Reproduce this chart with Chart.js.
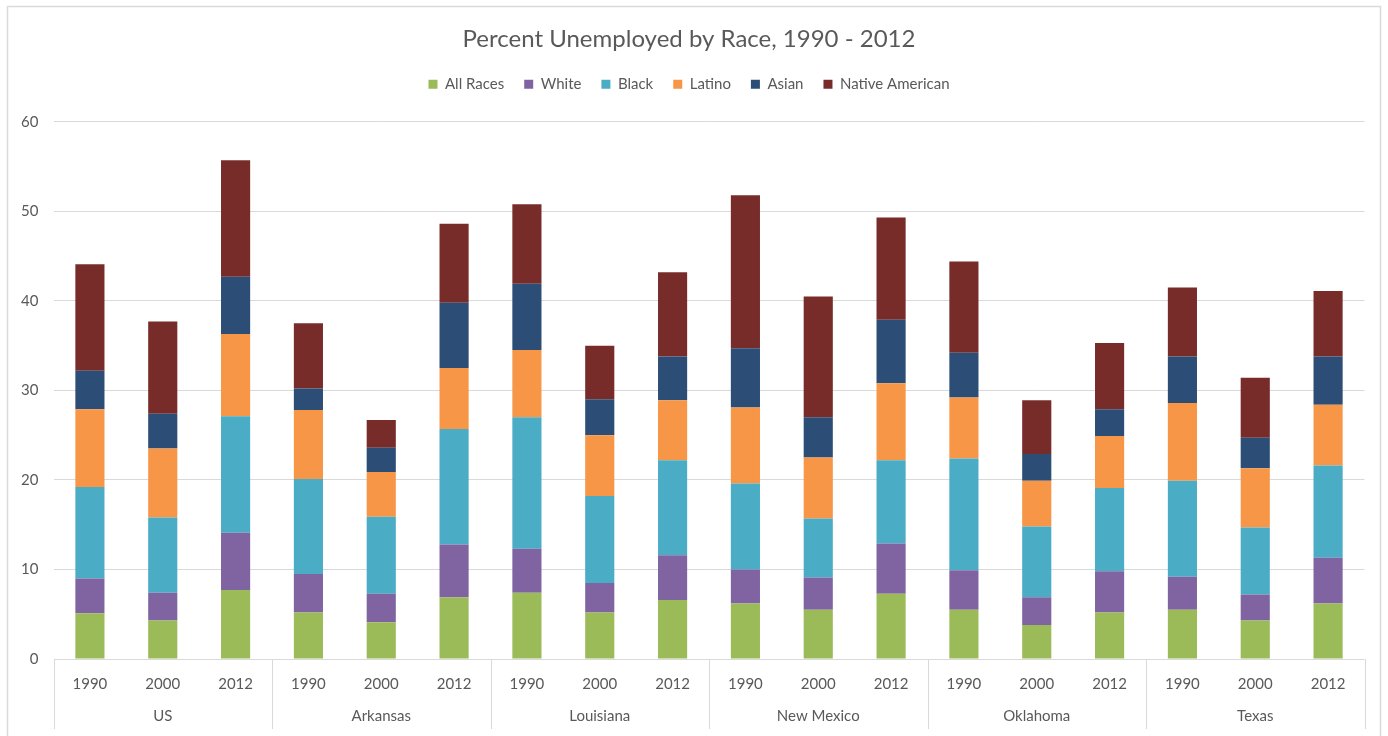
<!DOCTYPE html>
<html>
<head>
<meta charset="utf-8">
<title>Percent Unemployed by Race, 1990 - 2012</title>
<script src="https://cdn.jsdelivr.net/npm/chart.js@4.4.1/dist/chart.umd.min.js"></script>
<style>
  html, body { margin: 0; padding: 0; background: #fff; }
  #wrap { width: 1388px; height: 736px; }
</style>
</head>
<body>
<div id="wrap"><canvas id="chart" width="1388" height="736"></canvas></div>
<script>
// Anos e regiões (eixo de duas linhas)
const years = ['1990', '2000', '2012'];
const regions = ['US', 'Arkansas', 'Louisiana', 'New Mexico', 'Oklahoma', 'Texas'];

// Percentual de desempregados por raça, na ordem US 1990 ... Texas 2012
const allRaces = [5.1, 4.3, 7.7, 5.2, 4.1, 6.9, 7.4, 5.2, 6.6, 6.2, 5.5, 7.3, 5.5, 3.8, 5.2, 5.5, 4.3, 6.2];
const white    = [3.9, 3.1, 6.4, 4.3, 3.2, 5.9, 4.9, 3.3, 5.0, 3.8, 3.6, 5.6, 4.4, 3.1, 4.6, 3.7, 2.9, 5.1];
const black    = [10.2, 8.4, 13.0, 10.6, 8.6, 12.9, 14.7, 9.7, 10.6, 9.6, 6.6, 9.3, 12.5, 7.9, 9.3, 10.7, 7.5, 10.3];
const latino   = [8.7, 7.7, 9.2, 7.7, 5.0, 6.8, 7.5, 6.8, 6.7, 8.5, 6.8, 8.6, 6.8, 5.1, 5.8, 8.7, 6.6, 6.8];
const asian    = [4.3, 3.9, 6.4, 2.4, 2.7, 7.3, 7.4, 4.0, 4.9, 6.6, 4.5, 7.1, 5.0, 3.0, 3.0, 5.2, 3.4, 5.4];
const native   = [11.9, 10.3, 13.0, 7.3, 3.1, 8.8, 8.9, 6.0, 9.4, 17.1, 13.5, 11.4, 10.2, 6.0, 7.4, 7.7, 6.7, 7.3];

const yTicks = [0, 10, 20, 30, 40, 50, 60];

const labels = regions.flatMap(() => years);
const FONT = 'Lato, "Open Sans", sans-serif';
const TEXT = '#595959';
const LINE = '#d9d9d9';

// Moldura e fundo
const frame = {
  id: 'frame',
  beforeDraw(chart) {
    const ctx = chart.ctx;
    ctx.save();
    ctx.fillStyle = '#fff';
    ctx.fillRect(0, 0, chart.width, chart.height);
    ctx.strokeStyle = LINE;
    ctx.lineWidth = 1.5;
    ctx.strokeRect(7.5, 6.5, chart.width - 15, chart.height + 10);
    ctx.restore();
  }
};

// Espaço extra abaixo da legenda
const legendMargin = {
  id: 'legendMargin',
  beforeInit(chart) {
    const fit = chart.legend.fit;
    chart.legend.fit = function () {
      fit.bind(chart.legend)();
      this.height += 20;
    };
  }
};

// Separadores e nomes das regiões embaixo dos anos
const regionAxis = {
  id: 'regionAxis',
  afterDraw(chart) {
    const ctx = chart.ctx;
    const x = chart.scales.x;
    const bottom = chart.chartArea.bottom;
    const edge = i => {
      if (i === 0) return x.left;
      if (i === labels.length) return x.right;
      return (x.getPixelForValue(i - 1) + x.getPixelForValue(i)) / 2;
    };
    ctx.save();
    ctx.strokeStyle = LINE;
    ctx.lineWidth = 1;
    for (let g = 0; g <= regions.length; g++) {
      const px = Math.round(edge(g * years.length)) + 0.5;
      ctx.beginPath();
      ctx.moveTo(px, bottom);
      ctx.lineTo(px, bottom + 70);
      ctx.stroke();
    }
    ctx.fillStyle = TEXT;
    ctx.font = '15px ' + FONT;
    ctx.textAlign = 'center';
    ctx.textBaseline = 'middle';
    regions.forEach((r, g) => {
      const cx = (edge(g * years.length) + edge((g + 1) * years.length)) / 2;
      ctx.fillText(r, cx, bottom + 57);
    });
    ctx.restore();
  }
};

const series = [
  { label: 'All Races', data: allRaces, color: '#9bbb59' },
  { label: 'White', data: white, color: '#8064a2' },
  { label: 'Black', data: black, color: '#4bacc6' },
  { label: 'Latino', data: latino, color: '#f79646' },
  { label: 'Asian', data: asian, color: '#2c4d75' },
  { label: 'Native American', data: native, color: '#772c2a' }
];

new Chart(document.getElementById('chart').getContext('2d'), {
  type: 'bar',
  data: {
    labels: labels,
    datasets: series.map(s => ({
      label: s.label,
      data: s.data,
      backgroundColor: s.color,
      borderWidth: 0,
      barPercentage: 0.4,
      categoryPercentage: 1.0
    }))
  },
  options: {
    responsive: false,
    animation: false,
    layout: { padding: { left: 13.5, right: 23.5, bottom: 0 } },
    scales: {
      x: {
        stacked: true,
        grid: { display: false },
        border: { display: false },
        ticks: {
          color: TEXT,
          font: { family: FONT, size: 15 },
          padding: 8,
          maxRotation: 0,
          autoSkip: false
        },
        afterFit(scale) { scale.height = 77; }
      },
      y: {
        stacked: true,
        min: 0,
        max: 60,
        afterBuildTicks(scale) { scale.ticks = yTicks.map(v => ({ value: v })); },
        grid: { color: LINE, lineWidth: 1, drawTicks: false },
        border: { display: false },
        ticks: {
          color: TEXT,
          font: { family: FONT, size: 15 },
          padding: 15
        },
        afterFit(scale) { scale.width = 40; }
      }
    },
    plugins: {
      title: {
        display: true,
        text: 'Percent Unemployed by Race, 1990 - 2012',
        color: TEXT,
        font: { family: FONT, size: 24, weight: 'normal' },
        padding: { top: 25, bottom: 3 }
      },
      legend: {
        position: 'top',
        labels: {
          color: TEXT,
          font: { family: FONT, size: 15 },
          boxWidth: 9,
          boxHeight: 9,
          padding: 20
        }
      },
      tooltip: { enabled: false }
    }
  },
  plugins: [frame, legendMargin, regionAxis]
});
</script>
</body>
</html>
